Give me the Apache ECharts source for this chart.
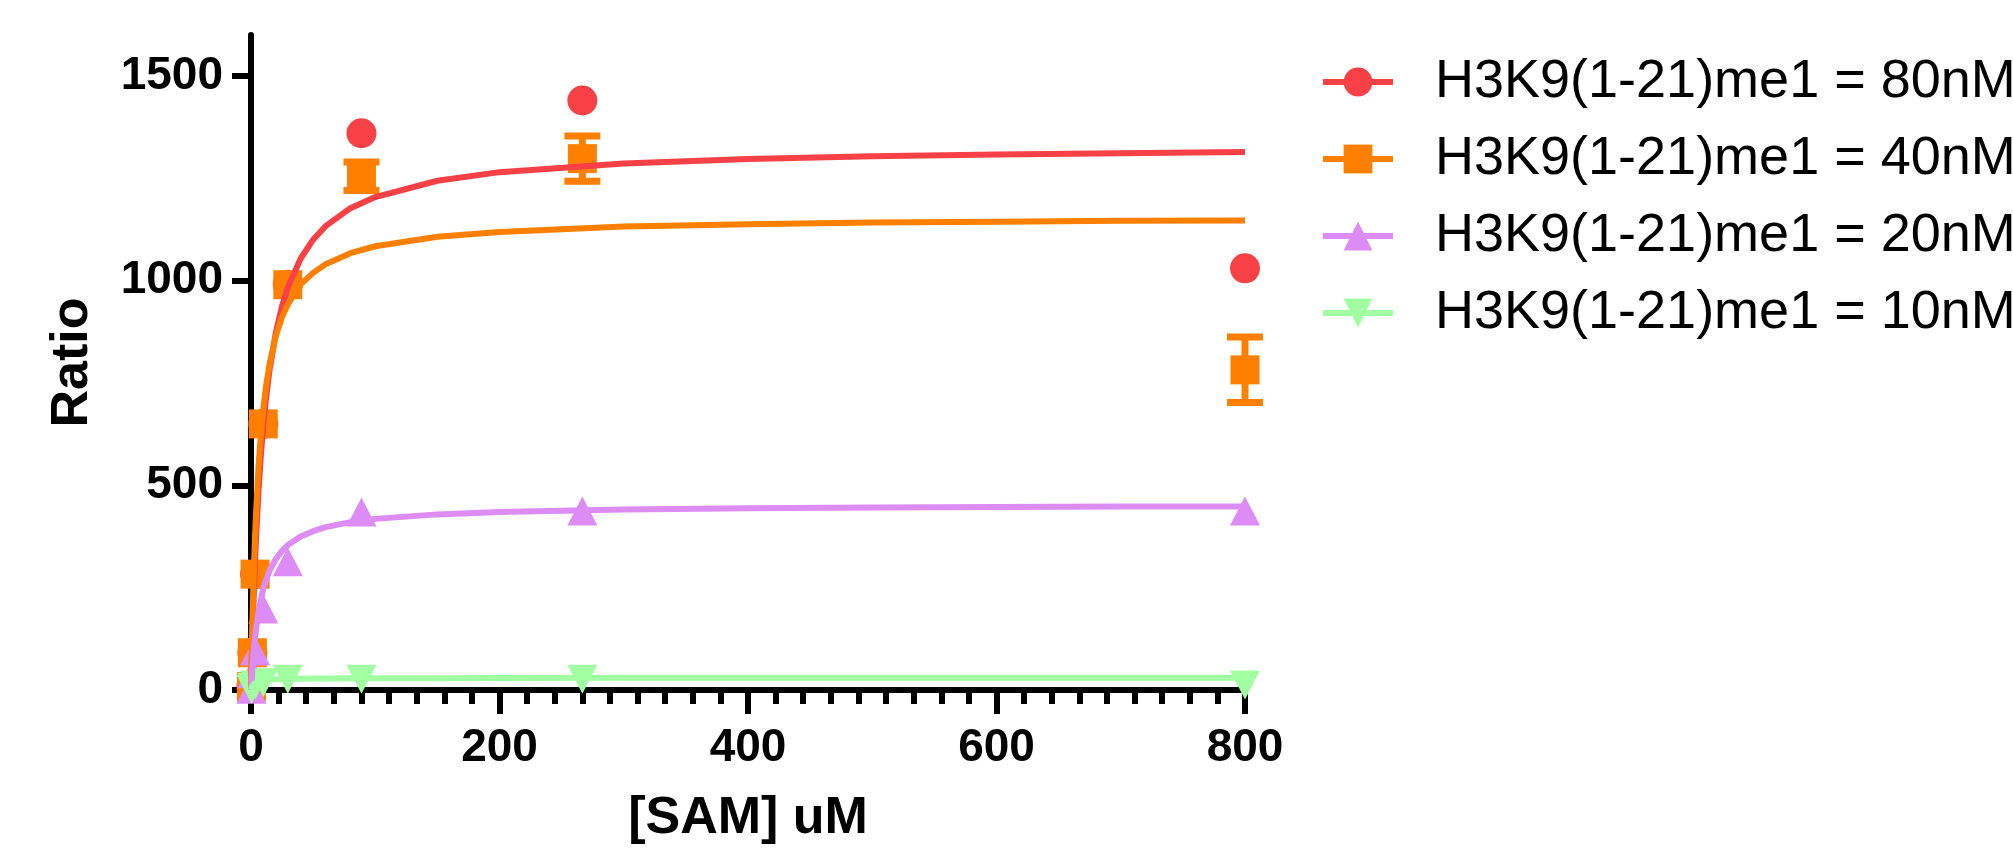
<!DOCTYPE html>
<html>
<head>
<meta charset="utf-8">
<title>H3K9(1-21)me1 - SAM titration</title>
<script src="https://cdn.jsdelivr.net/npm/echarts@6/dist/echarts.min.js"></script>
<style>
    html, body { margin: 0; padding: 0; background: #fff; }
    #main { width: 2013px; height: 850px; }
</style>
</head>
<body>
<div id="main"></div>
<script>
// [SAM] uM, 3-fold dilution series
var samConc = [0.37, 1.1, 3.29, 9.88, 29.6, 88.9, 266.7, 800];

// measured ratio for each peptide concentration
var ratio80nM = [8, 91, 283, 650, 990, 1360, 1440, 1030];
var ratio40nM = [8, 91, 283, 650, 990, 1255, 1298, 782];
var ratio40nMErr = [0, 0, 0, 0, 0, 35, 55, 80];
var ratio20nM = [2, 40, 95, 198, 313, 435, 437, 437];
var ratio10nM = [2, 6, 12, 18, 26, 26, 26, 12];

// fitted curves
var fitX    = [0, 1, 2, 3, 4, 6, 8, 10, 12, 15, 20, 25, 30, 40, 50, 60, 80, 100, 150, 200, 300, 400, 500, 600, 700, 800];
var fit80nM = [0, 116, 213, 296, 367, 484, 576, 649, 710, 783, 873, 938, 986, 1054, 1100, 1133, 1177, 1204, 1244, 1265, 1286, 1297, 1304, 1308, 1311, 1314];
var fit40nM = [0, 149, 264, 356, 430, 544, 627, 690, 740, 797, 865, 911, 944, 991, 1019, 1040, 1067, 1084, 1107, 1119, 1132, 1138, 1142, 1144, 1146, 1147];
var fit20nM = [0, 49, 88, 120, 147, 190, 222, 248, 268, 292, 320, 340, 355, 375, 388, 398, 410, 418, 429, 435, 441, 444, 446, 447, 448, 448];
var fit10nM = [0, 8, 13, 16, 18, 21, 22, 23, 24, 25, 26, 26.5, 27, 27.5, 28, 28, 28.5, 29, 29, 29.5, 30, 30, 30, 30, 30, 30];

var seriesNames = ['H3K9(1-21)me1 = 80nM', 'H3K9(1-21)me1 = 40nM', 'H3K9(1-21)me1 = 20nM', 'H3K9(1-21)me1 = 10nM'];
var xTicks = [0, 200, 400, 600, 800];
var yTicks = [0, 500, 1000, 1500];

var colors = ['#F84146', '#FF8000', '#DD8BF5', '#A1FFA1'];
var symbols = ['circle', 'rect', 'triangle', 'path://M0,0L10,0L5,10Z'];
var symbolSizes = [30, 29, [30, 29], [30, 29]];
var font = 'Liberation Sans, Arial, sans-serif';

var points = [ratio80nM, ratio40nM, ratio20nM, ratio10nM];
var fits = [fit80nM, fit40nM, fit20nM, fit10nM];

function pairs(xs, ys) {
    return xs.map(function (x, i) { return [x, ys[i]]; });
}
function plain(v) { return String(v); }

var series = [];
// fit lines first so the legend takes its icon from them
seriesNames.forEach(function (name, i) {
    series.push({
        name: name,
        type: 'line',
        data: pairs(fitX, fits[i]),
        symbol: symbols[i],
        showSymbol: false,
        silent: true,
        lineStyle: { width: 6, color: colors[i] },
        itemStyle: { color: colors[i] },
        z: 4
    });
});
seriesNames.forEach(function (name, i) {
    series.push({
        name: name,
        type: 'scatter',
        data: pairs(samConc, points[i]),
        symbol: symbols[i],
        symbolSize: symbolSizes[i],
        itemStyle: { color: colors[i], opacity: 1 },
        clip: false,
        z: 3
    });
});

// error bars (40nM)
var errData = [];
samConc.forEach(function (x, i) {
    if (ratio40nMErr[i] > 0) {
        errData.push([x, ratio40nM[i] - ratio40nMErr[i], ratio40nM[i] + ratio40nMErr[i]]);
    }
});
series.push({
    name: 'err40',
    type: 'custom',
    z: 3,
    encode: { x: 0, y: [1, 2] },
    data: errData,
    renderItem: function (params, api) {
        var lo = api.coord([api.value(0), api.value(1)]);
        var hi = api.coord([api.value(0), api.value(2)]);
        var cap = 18;
        var style = { stroke: colors[1], lineWidth: 7 };
        return {
            type: 'group',
            children: [
                { type: 'line', shape: { x1: lo[0], y1: lo[1], x2: hi[0], y2: hi[1] }, style: style },
                { type: 'line', shape: { x1: lo[0] - cap, y1: lo[1], x2: lo[0] + cap, y2: lo[1] }, style: style },
                { type: 'line', shape: { x1: hi[0] - cap, y1: hi[1], x2: hi[0] + cap, y2: hi[1] }, style: style }
            ]
        };
    }
});

var myChart = echarts.init(document.getElementById('main'));
myChart.setOption({
    backgroundColor: '#fff',
    animation: false,
    grid: { left: 251, right: 768, top: 35, bottom: 153 },
    legend: {
        orient: 'vertical',
        left: 1315,
        top: 50,
        data: seriesNames,
        itemWidth: 70,
        itemHeight: 36,
        itemGap: 23,
        selectedMode: false,
        lineStyle: { width: 6 },
        textStyle: { fontFamily: font, fontSize: 54, color: '#000', padding: [0, 0, 0, 37] }
    },
    xAxis: {
        type: 'value',
        min: 0,
        max: 800,
        interval: 200,
        axisLine: { onZero: false, lineStyle: { color: '#000', width: 6 } },
        axisTick: { show: true, length: 24, customValues: xTicks, lineStyle: { color: '#000', width: 6 } },
        minorTick: { show: true, splitNumber: 9, length: 14, lineStyle: { color: '#000', width: 6 } },
        axisLabel: { customValues: xTicks, formatter: plain, fontFamily: font, fontSize: 46, fontWeight: 'bold', color: '#000', margin: 35 },
        splitLine: { show: false },
        minorSplitLine: { show: false },
        name: '[SAM] uM',
        nameLocation: 'middle',
        nameGap: 103,
        nameTextStyle: { fontFamily: font, fontSize: 52, fontWeight: 'bold', color: '#000' }
    },
    yAxis: {
        type: 'value',
        min: 0,
        max: 1600,
        interval: 500,
        axisLine: { show: true, onZero: false, lineStyle: { color: '#000', width: 6 } },
        axisTick: { show: true, length: 19, customValues: yTicks, lineStyle: { color: '#000', width: 6 } },
        axisLabel: { customValues: yTicks, formatter: plain, fontFamily: font, fontSize: 46, fontWeight: 'bold', color: '#000', margin: 28 },
        splitLine: { show: false },
        name: 'Ratio',
        nameLocation: 'middle',
        nameGap: 152,
        nameTextStyle: { fontFamily: font, fontSize: 52, fontWeight: 'bold', color: '#000' }
    },
    series: series
});
</script>
</body>
</html>
